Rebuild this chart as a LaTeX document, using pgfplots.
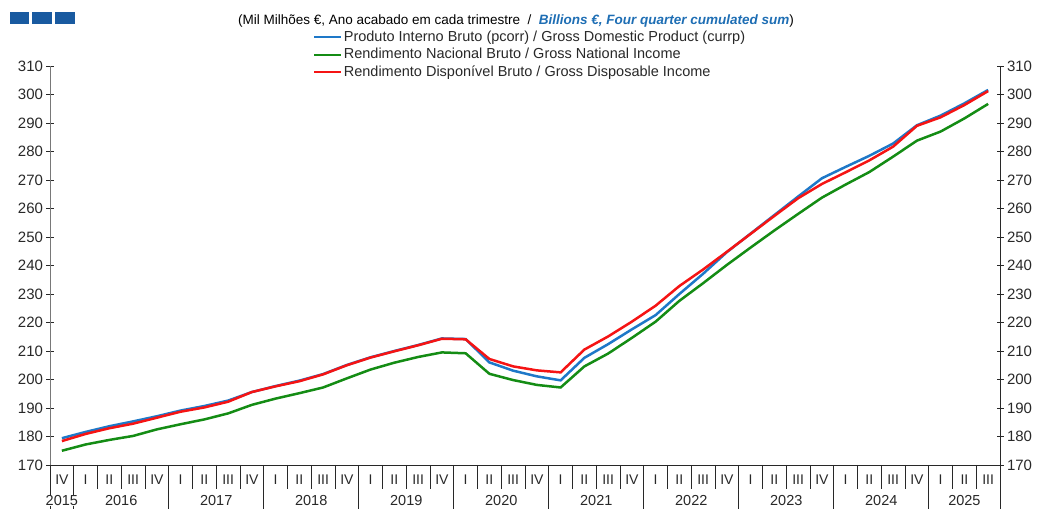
\documentclass[border=0pt]{standalone}
\usepackage{fontspec}
\setmainfont{Liberation Sans}
\usepackage{pgfplots}
\pgfplotsset{compat=1.18}
\usepackage{pgfplotstable}

\definecolor{gdpblue}{RGB}{30,120,200}
\definecolor{gnigreen}{RGB}{20,140,20}
\definecolor{gdired}{RGB}{245,20,20}
\definecolor{logoblue}{RGB}{25,90,160}
\definecolor{titleblue}{RGB}{30,110,180}
\definecolor{txt}{RGB}{40,40,40}
\definecolor{axgray}{RGB}{120,120,120}

\pgfplotstableread{
x    blue  red   green
0.5  179.4 178.4 175.0
1.5  181.6 180.9 177.2
2.5  183.6 182.9 178.8
3.5  185.3 184.5 180.2
4.5  187.1 186.6 182.5
5.5  189.1 188.7 184.3
6.5  190.7 190.2 186.0
7.5  192.6 192.2 188.1
8.5  195.6 195.6 191.1
9.5  197.7 197.6 193.3
10.5 199.6 199.4 195.2
11.5 201.9 201.8 197.2
12.5 205.1 205.0 200.4
13.5 207.8 207.7 203.5
14.5 210.0 209.9 205.9
15.5 212.1 212.0 207.9
16.5 214.4 214.3 209.5
17.5 214.2 214.1 209.2
18.5 206.0 207.2 202.0
19.5 203.1 204.6 199.8
20.5 201.1 203.2 198.1
21.5 199.7 202.5 197.2
22.5 207.6 210.5 204.6
23.5 212.4 215.1 209.1
24.5 217.6 220.3 214.6
25.5 222.6 225.9 220.3
26.5 230.0 232.8 227.6
27.5 237.1 238.6 233.8
28.5 244.7 244.8 240.2
29.5 251.2 251.1 246.3
30.5 257.7 257.4 252.3
31.5 264.2 263.6 258.1
32.5 270.6 268.6 263.8
33.5 274.6 272.7 268.4
34.5 278.5 276.9 272.8
35.5 282.8 281.7 278.2
36.5 289.2 289.0 283.8
37.5 292.6 292.0 287.0
38.5 296.9 296.3 291.6
39.5 301.6 301.2 296.7
}\data

\begin{document}
\begin{tikzpicture}
\useasboundingbox (0,0) rectangle (1040pt,508pt);
% logo
\fill[logoblue] (10pt,484pt) rectangle (29pt,496pt);
\fill[logoblue] (32pt,484pt) rectangle (52pt,496pt);
\fill[logoblue] (55pt,484pt) rectangle (75pt,496pt);
% title
\node[font=\fontsize{13.5}{15}\selectfont, text=black, anchor=center] at (516pt,487pt)
  {(Mil Milhões €, Ano acabado em cada trimestre \ / \ {\color{titleblue}\bfseries\itshape Billions €, Four quarter cumulated sum})};

\begin{axis}[
  at={(50pt,43pt)}, anchor=south west,
  scale only axis, width=950pt, height=399pt,
  xmin=0, xmax=40, ymin=170, ymax=310,
  axis x line*=bottom, axis y line*=left,
  axis line style={-, line width=0.9pt},
  x axis line style={draw=txt},
  y axis line style={draw=axgray},
  clip=false,
  /pgf/number format/assume math mode=true,
  ytick={170,180,...,310},
  xtick={0.5,1.5,...,39.5},
  xticklabels={IV,I,II,III,IV,I,II,III,IV,I,II,III,IV,I,II,III,IV,I,II,III,IV,I,II,III,IV,I,II,III,IV,I,II,III,IV,I,II,III,IV,I,II,III},
  tick align=center, major tick length=7pt,
  x tick style={draw=none},
  y tick style={draw=txt, line width=0.8pt},
  yticklabel style={font=\fontsize{15}{17}\selectfont, text=txt},
  xticklabel style={font=\fontsize{14}{16}\selectfont, text=txt, anchor=base, yshift=-16pt},
  legend style={at={(0.2768,1.0927)}, anchor=north west, draw=none, fill=none,
    inner sep=0pt, outer sep=0pt, row sep=1pt,
    font=\fontsize{14.5}{16}\selectfont, text=txt,
    nodes={inner sep=1.5pt, text height=10.5pt, text depth=3pt}},
  legend cell align=left,
  legend image code/.code={\draw[#1, line width=2.4pt] (0pt,0pt) -- (27pt,0pt);},
]
\addplot[gdpblue, line width=2.5pt] table[x=x, y=blue] {\data};
\addlegendentry{Produto Interno Bruto (pcorr) / Gross Domestic Product (currp)}
\addplot[gnigreen, line width=2.5pt] table[x=x, y=green] {\data};
\addlegendentry{Rendimento Nacional Bruto / Gross National Income}
\addplot[gdired, line width=2.5pt] table[x=x, y=red] {\data};
\addlegendentry{Rendimento Disponível Bruto / Gross Disposable Income}

% quarter separators (short)
\foreach \q in {2,3,4,6,7,8,10,11,12,14,15,16,18,19,20,22,23,24,26,27,28,30,31,32,34,35,36,38,39}{
  \edef\tmp{\noexpand\draw[txt, line width=0.6pt] (axis cs:\q,170) -- ++(0pt,-24pt);}\tmp
}
% year separators (long)
\foreach \q in {0,1,5,9,13,17,21,25,29,33,37,40}{
  \edef\tmp{\noexpand\draw[txt, line width=0.6pt] (axis cs:\q,170) -- ++(0pt,-45pt);}\tmp
}
% year labels
\foreach \xx/\yy in {0.5/2015,3/2016,7/2017,11/2018,15/2019,19/2020,23/2021,27/2022,31/2023,35/2024,38.5/2025}{
  \edef\tmp{\noexpand\node[anchor=base, font=\noexpand\fontsize{14.5}{16}\noexpand\selectfont, text=txt, fill=white, inner sep=0.5pt] at ([yshift=-40.5pt]axis cs:\xx,170) {\yy};}\tmp
}
\end{axis}

\begin{axis}[
  at={(50pt,43pt)}, anchor=south west,
  scale only axis, width=950pt, height=399pt,
  xmin=0, xmax=40, ymin=170, ymax=310,
  axis y line*=right, axis x line=none,
  axis line style={-, line width=0.9pt, draw=txt},
  /pgf/number format/assume math mode=true,
  ytick={170,180,...,310},
  tick align=center, major tick length=7pt,
  y tick style={draw=txt, line width=0.8pt},
  yticklabel style={font=\fontsize{15}{17}\selectfont, text=txt},
]
\addplot[draw=none] coordinates {(0,170)};
\end{axis}
\end{tikzpicture}
\end{document}
